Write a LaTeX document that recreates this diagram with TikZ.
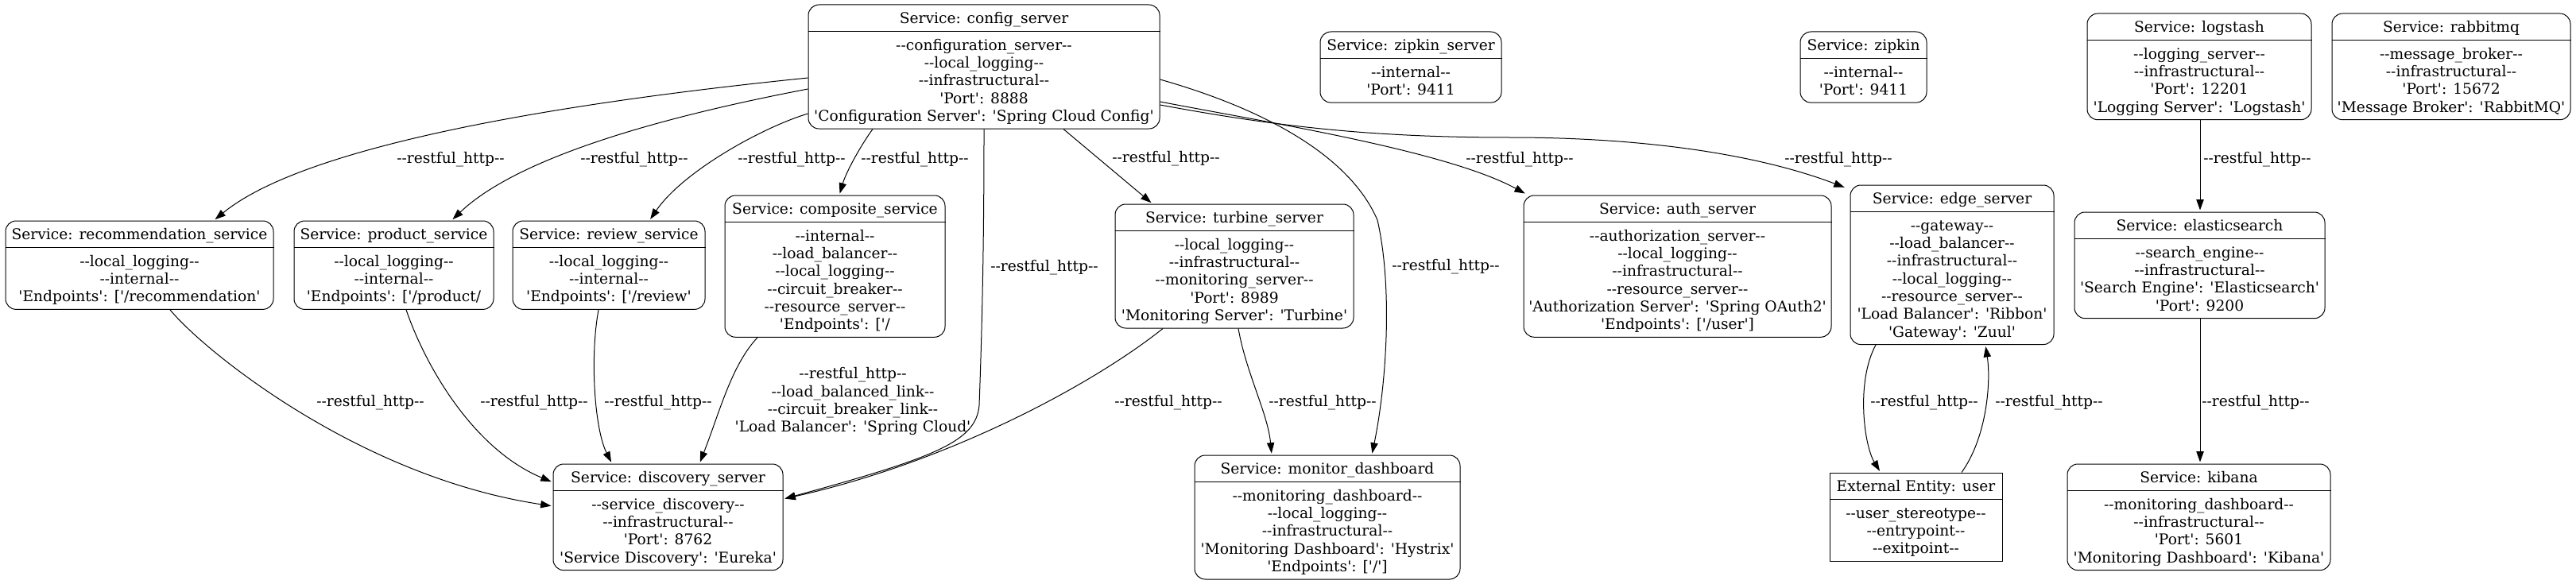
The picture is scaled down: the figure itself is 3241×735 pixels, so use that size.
\documentclass[tikz,border=0pt]{standalone}
\usetikzlibrary{arrows.meta,fit}
\font\gvf="DejaVu Serif" at 14pt
\tikzset{
  gvbox/.style={draw, line width=0.75pt, rounded corners=10pt, inner sep=0pt},
  gvrect/.style={draw, line width=0.75pt, inner sep=0pt},
  gvline/.style={line width=0.75pt},
  txt/.style={font=\gvf, inner sep=0pt, anchor=base},
  elabel/.style={font=\gvf, inner sep=0pt, anchor=base},
  arr/.style={line width=0.75pt, shorten >=1.5pt, -{Triangle[length=10pt,width=7pt]}},
}
\newcommand\rh{--restful\_http--}
% #1 style, #2 name, #3 x1, #4 x2, #5 top, #6 number of body lines, #7 title, #8 body lines
\newcommand\gvnode[8]{%
  \pgfmathsetmacro\gvbot{#5+66.8+22.3*(#6-1)}%
  \pgfmathsetmacro\gvcx{(#3+#4)/2}%
  \pgfmathsetmacro\gvhd{#5+33.3}%
  \node[#1, fit={(#3,#5) (#4,\gvbot)}] (#2) {};
  \draw[gvline] (#2.west |- 0,\gvhd) -- (#2.east |- 0,\gvhd);
  \node[txt] (#2-title) at (\gvcx,#5+23.5) {#7};
  \foreach \ln [count=\i from 0] in {#8} {\node[txt] (#2-\i) at (\gvcx,#5+57.3+22.3*\i) {\ln};}
}
\begin{document}
\begin{tikzpicture}[x=0.75pt,y=-0.75pt]
\useasboundingbox (0,0) rectangle (3241,735);

\gvnode{gvbox}{config}{1017}{1459}{6}{5}{Service: config\_server}
  {--configuration\_server--, --local\_logging--, --infrastructural--, 'Port': 8888, 'Configuration Server': 'Spring Cloud Config'}
\gvnode{gvbox}{zipkinsrv}{1661}{1889}{40}{2}{Service: zipkin\_server}
  {--internal--, 'Port': 9411}
\gvnode{gvbox}{zipkin}{2265}{2424}{40}{2}{Service: zipkin}
  {--internal--, 'Port': 9411}
\gvnode{gvbox}{logstash}{2626}{2908}{17}{4}{Service: logstash}
  {--logging\_server--, --infrastructural--, 'Port': 12201, 'Logging Server': 'Logstash'}
\gvnode{gvbox}{rabbitmq}{2934}{3234}{17}{4}{Service: rabbitmq}
  {--message\_broker--, --infrastructural--, 'Port': 15672, 'Message Broker': 'RabbitMQ'}
\gvnode{gvbox}{reco}{7}{344}{278}{3}{Service: recommendation\_service}
  {--local\_logging--, --internal--, 'Endpoints': ['/recommendation'}
\gvnode{gvbox}{product}{370}{621}{278}{3}{Service: product\_service}
  {--local\_logging--, --internal--, 'Endpoints': ['/product/}
\gvnode{gvbox}{review}{645}{887}{278}{3}{Service: review\_service}
  {--local\_logging--, --internal--, 'Endpoints': ['/review'}
\gvnode{gvbox}{composite}{912}{1189}{246}{6}{Service: composite\_service}
  {--internal--, --load\_balancer--, --local\_logging--, --circuit\_breaker--, --resource\_server--, 'Endpoints': ['/}
\gvnode{gvbox}{turbine}{1403}{1703}{257}{5}{Service: turbine\_server}
  {--local\_logging--, --infrastructural--, --monitoring\_server--, 'Port': 8989, 'Monitoring Server': 'Turbine'}
\gvnode{gvbox}{auth}{1917}{2304}{246}{6}{Service: auth\_server}
  {--authorization\_server--, --local\_logging--, --infrastructural--, --resource\_server--, 'Authorization Server': 'Spring OAuth2', 'Endpoints': ['/user']}
\gvnode{gvbox}{edge}{2328}{2584}{233}{7}{Service: edge\_server}
  {--gateway--, --load\_balancer--, --infrastructural--, --local\_logging--, --resource\_server--, 'Load Balancer': 'Ribbon', 'Gateway': 'Zuul'}
\gvnode{gvbox}{elastic}{2610}{2925}{267}{4}{Service: elasticsearch}
  {--search\_engine--, --infrastructural--, 'Search Engine': 'Elasticsearch', 'Port': 9200}
\gvnode{gvbox}{discovery}{696}{985}{584}{4}{Service: discovery\_server}
  {--service\_discovery--, --infrastructural--, 'Port': 8762, 'Service Discovery': 'Eureka'}
\gvnode{gvbox}{monitor}{1503}{1837}{573}{5}{Service: monitor\_dashboard}
  {--monitoring\_dashboard--, --local\_logging--, --infrastructural--, 'Monitoring Dashboard': 'Hystrix', 'Endpoints': ['/']}
\gvnode{gvrect}{user}{2302}{2519}{595}{3}{External Entity: user}
  {--user\_stereotype--, --entrypoint--, --exitpoint--}
\gvnode{gvbox}{kibana}{2601}{2932}{584}{4}{Service: kibana}
  {--monitoring\_dashboard--, --infrastructural--, 'Port': 5601, 'Monitoring Dashboard': 'Kibana'}

% connectors from config_server
\draw[arr] (config.west |- 0,98) .. controls (800,120) and (400,170) .. (reco.north -| 269,0);
\draw[arr] (config.west |- 0,112) .. controls (870,140) and (660,190) .. (product.north -| 568,0);
\draw[arr] (config.west |- 0,143) .. controls (960,160) and (860,215) .. (review.north -| 817,0);
\draw[arr] (config.south -| 1098,0) .. controls (1085,180) and (1065,215) .. (composite.north -| 1056,0);
\draw[arr] (config.south -| 1238,0) .. controls (1238,300) and (1236,400) .. (1232,510)
           .. controls (1228,555) and (1180,575) .. (discovery.east |- 0,628);
\draw[arr] (config.south -| 1338,0) -- (turbine.north -| 1450,0);
\draw[arr] (config.east |- 0,100) .. controls (1600,140) and (1700,200) .. (1733,277)
           .. controls (1752,360) and (1745,480) .. (monitor.north -| 1726,0);
\draw[arr] (config.east |- 0,128) .. controls (1600,155) and (1820,190) .. ([shift={(4,-1)}]auth.north west);
\draw[arr] (config.east |- 0,132) .. controls (1600,158) and (1720,173) .. (1900,173)
           .. controls (2050,173) and (2200,190) .. ([shift={(-5,4)}]edge.north west);

% lower connectors
\draw[arr] (reco.south -| 214,0) .. controls (255,440) and (450,600) .. (discovery.west |- 0,637);
\draw[arr] (product.south -| 511,0) .. controls (535,460) and (595,565) .. (discovery.west |- 0,607);
\draw[arr] (review.south -| 753,0) .. controls (742,450) and (748,540) .. (discovery.north -| 770,0);
\draw[arr] (composite.south -| 953,0) .. controls (920,460) and (905,520) .. (discovery.north -| 880,0);
\draw[arr] (turbine.south -| 1463,0) .. controls (1380,480) and (1200,580) .. (discovery.east |- 0,628);
\draw[arr] (turbine.south -| 1558,0) .. controls (1568,470) and (1595,520) .. (monitor.north -| 1600,0);
\draw[arr] (edge.south -| 2360,0) .. controls (2335,480) and (2345,560) .. (user.north -| 2366,0);
\draw[arr] (user.north -| 2468,0) .. controls (2500,550) and (2505,480) .. (edge.south -| 2498,0);
\draw[arr] (logstash.south -| 2768,0) -- (elastic.north -| 2768,0);
\draw[arr] (elastic.south -| 2768,0) -- (kibana.north -| 2768,0);

% edge labels
\node[elabel] (l1) at (567,205) {\rh};
\node[elabel] (l2) at (798,205) {\rh};
\node[elabel] (l3) at (996,205) {\rh};
\node[elabel] (l4) at (1151,205) {\rh};
\node[elabel] (l5) at (1314,341) {\rh};
\node[elabel] (l6) at (1467,204) {\rh};
\node[elabel] (l7) at (1819,340) {\rh};
\node[elabel] (l8) at (1912,205) {\rh};
\node[elabel] (l9) at (2313,205) {\rh};
\node[elabel] (l10) at (466,511) {\rh};
\node[elabel] (l11) at (672,511) {\rh};
\node[elabel] (l12) at (828,511) {\rh};
\node[elabel] (l13a) at (1073,476) {\rh};
\node[elabel] (l13b) at (1073,499) {--load\_balanced\_link--};
\node[elabel] (l13c) at (1073,521) {--circuit\_breaker\_link--};
\node[elabel] (l13d) at (1073,543) {'Load Balancer': 'Spring Cloud'};
\node[elabel] (l14) at (1470,511) {\rh};
\node[elabel] (l15) at (1664,511) {\rh};
\node[elabel] (l16) at (2421,511) {\rh};
\node[elabel] (l17) at (2578,511) {\rh};
\node[elabel] (l18) at (2840,205) {\rh};
\node[elabel] (l19) at (2838,511) {\rh};
\end{tikzpicture}
\end{document}
